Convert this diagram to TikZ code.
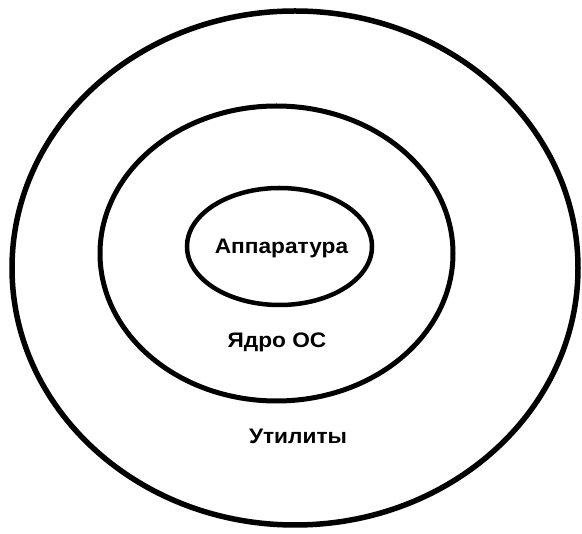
\documentclass[tikz,border=0pt]{standalone}
\usepackage{fontspec}
\setmainfont{Liberation Sans}
\usetikzlibrary{shapes.geometric}
\tikzset{
  ring/.style={ellipse, draw=black, inner sep=0pt},
  lbl/.style={anchor=base, inner sep=0pt, xscale=1.08, font=\bfseries\fontsize{21}{23}\selectfont}
}
\begin{document}
\begin{tikzpicture}[x=1pt, y=-1pt]
  \useasboundingbox (0,0) rectangle (582,534);
  \node[ring, line width=5.5pt, minimum width=566pt, minimum height=514pt] (utils) at (295,268) {};
  \node[ring, line width=5pt, minimum width=353pt, minimum height=295pt] (kernel) at (276.5,253.5) {};
  \node[ring, line width=4.5pt, minimum width=185pt, minimum height=117pt] (hw) at (279.5,246.5) {};
  \node[lbl] (hwtext) at (281.5,254) {Аппаратура};
  \node[lbl] (kerneltext) at (277,348) {Ядро ОС};
  \node[lbl] (utilstext) at (298,444) {Утилиты};
\end{tikzpicture}
\end{document}
